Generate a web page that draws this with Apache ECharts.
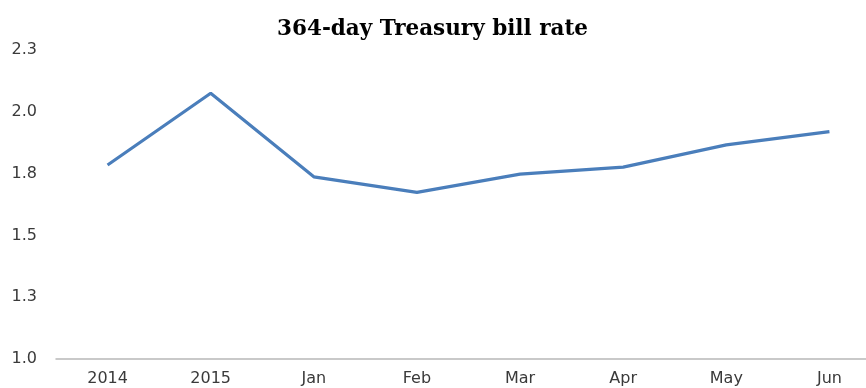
<!DOCTYPE html>
<html>
<head>
<meta charset="utf-8">
<script src="https://cdn.jsdelivr.net/npm/echarts@6/dist/echarts.min.js"></script>
<style>
html,body{margin:0;padding:0;background:#fff;}
#c{width:866px;height:388px;}
</style>
</head>
<body>
<div id="c"></div>
<script>
const titleText = "364-day Treasury bill rate";
const categories = ["2014", "2015", "Jan", "Feb", "Mar", "Apr", "May", "Jun"];
const rateValues = [1.785, 2.075, 1.737, 1.674, 1.748, 1.776, 1.866, 1.92];
const yMin = 1.0, yMax = 2.25, yStep = 0.25;

const chart = echarts.init(document.getElementById('c'), null, {renderer: 'canvas'});
chart.setOption({
  animation: false,
  backgroundColor: '#ffffff',
  title: {
    text: titleText,
    left: 272,
    top: 13,
    textStyle: {fontFamily: 'DejaVu Serif', fontWeight: 'bold', fontSize: 21.5, color: '#000'}
  },
  grid: {left: 56, top: 50, width: 825, height: 309, containLabel: false, outerBoundsMode: 'none'},
  xAxis: {
    type: 'category',
    data: categories,
    boundaryGap: true,
    axisLine: {show: true, lineStyle: {color: '#b8b8b8', width: 1.5}},
    axisTick: {show: false},
    splitLine: {show: false},
    axisLabel: {fontFamily: 'DejaVu Sans', fontSize: 16, color: '#3a3a3a', margin: 12}
  },
  yAxis: {
    type: 'value',
    min: yMin, max: yMax, interval: yStep,
    axisLine: {show: false},
    axisTick: {show: false},
    splitLine: {show: false},
    axisLabel: {
      fontFamily: 'DejaVu Sans', fontSize: 16, color: '#3a3a3a', margin: 19,
      padding: [3, 0, 0, 0],
      formatter: v => v.toFixed(1)
    }
  },
  series: [{
    type: 'line',
    data: rateValues,
    symbol: 'none',
    lineStyle: {color: '#4a7ebb', width: 3.2},
    itemStyle: {color: '#4a7ebb'}
  }]
});
</script>
</body>
</html>
